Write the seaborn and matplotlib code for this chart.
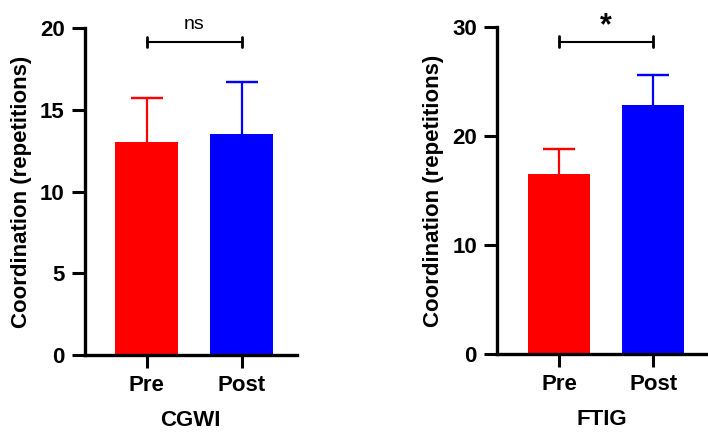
import pandas as pd
import matplotlib
matplotlib.use("Agg")
import matplotlib.pyplot as plt
import seaborn as sns

# values (mean and SD, SD drawn upward only)
conditions = ["Pre", "Post"]
cgwi_mean = [13.0, 13.5]
cgwi_sd = [2.7, 3.2]
ftig_mean = [16.5, 22.8]
ftig_sd = [2.3, 2.8]
bar_colors = {"Pre": "#FF0000", "Post": "#0000FF"}

sns.set_style("white")
plt.rcParams["font.family"] = ["Liberation Sans", "DejaVu Sans"]
plt.rcParams["font.weight"] = "bold"
plt.rcParams["text.color"] = "black"
plt.rcParams["axes.labelcolor"] = "black"
plt.rcParams["xtick.color"] = "black"
plt.rcParams["ytick.color"] = "black"

fig = plt.figure(figsize=(7.08, 4.34), dpi=100)
ax1 = fig.add_axes([0.120, 0.182, 0.299, 0.7535])
ax2 = fig.add_axes([0.702, 0.184, 0.297, 0.754])

panels = [
    (ax1, cgwi_mean, cgwi_sd, "CGWI", 20, [0, 5, 10, 15, 20], 19.14, "ns", (-0.65, 1.58)),
    (ax2, ftig_mean, ftig_sd, "FTIG", 30, [0, 10, 20, 30], 28.65, "*", (-0.66, 1.575)),
]

for ax, means, sds, group, ymax, yticks, brk, sig, xlim in panels:
    df = pd.DataFrame({"Condition": conditions, "Value": means})
    sns.barplot(data=df, x="Condition", y="Value", hue="Condition",
                palette=bar_colors, saturation=1, width=0.66, legend=False,
                ax=ax, edgecolor="none")
    for p in ax.patches:
        p.set_zorder(2)
    for i, c in enumerate(conditions):
        # vertical whisker from bar top up to mean + SD, with a cap
        ax.vlines(i, means[i], means[i] + sds[i], color=bar_colors[c], lw=1.6, zorder=1)
        ax.errorbar(i, means[i] + sds[i], yerr=0, color=bar_colors[c],
                    capsize=11.5, capthick=1.6, elinewidth=0, zorder=1)

    ax.set_ylim(0, ymax)
    ax.set_xlim(*xlim)
    ax.set_yticks(yticks)
    ax.set_ylabel("Coordination (repetitions)", fontsize=16, fontweight="bold", labelpad=6)
    ax.set_xlabel(group, fontsize=16, fontweight="bold", labelpad=10)
    ax.tick_params(axis="both", labelsize=16, width=2.2, length=9.5, direction="out",
                   bottom=True, left=True, pad=5)
    for lab in ax.get_xticklabels() + ax.get_yticklabels():
        lab.set_fontweight("bold")
    for side in ["top", "right"]:
        ax.spines[side].set_visible(False)
    for side in ["left", "bottom"]:
        ax.spines[side].set_linewidth(2.4)
        ax.spines[side].set_color("black")
        ax.spines[side].set_zorder(3)

    # significance bracket
    h = ymax * 0.016
    ax.plot([0, 1], [brk, brk], color="black", lw=1.5, clip_on=False)
    ax.plot([0, 0], [brk - h, brk + h], color="black", lw=2.0, clip_on=False)
    ax.plot([1, 1], [brk - h, brk + h], color="black", lw=2.0, clip_on=False)
    if sig == "ns":
        ax.text(0.5, brk + ymax * 0.028, sig, ha="center", va="bottom",
                fontsize=14, fontweight="normal", clip_on=False)
    else:
        ax.text(0.5, brk + ymax * 0.0, sig, ha="center", va="bottom",
                fontsize=22, fontweight="bold", clip_on=False)

fig.savefig("out.png", dpi=100)
